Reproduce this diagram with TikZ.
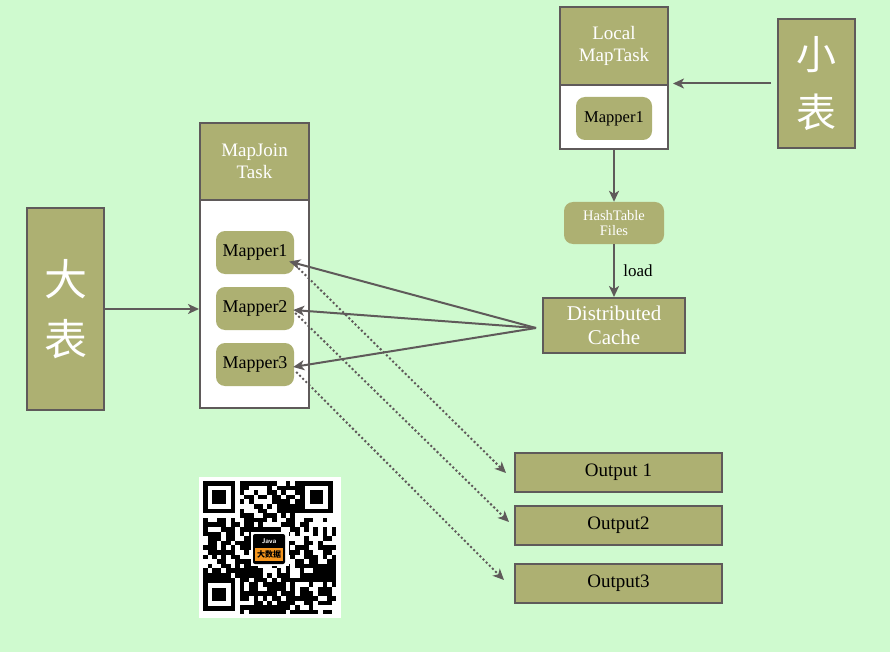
\documentclass[tikz,border=0pt]{standalone}
\usepackage{fontspec}
\setmainfont{Liberation Serif}
\newfontfamily\cjk{Noto Sans CJK SC}
\usetikzlibrary{arrows.meta,positioning,calc}

\definecolor{bgcol}{RGB}{207,250,207}
\definecolor{olive}{RGB}{173,176,114}
\definecolor{edgecol}{RGB}{95,90,90}
\definecolor{logoorange}{RGB}{245,150,30}

\tikzset{
  tablebox/.style={draw=edgecol, line width=2pt, fill=olive, text=white, align=center,
    minimum width=77pt, inner sep=0pt},
  headbox/.style={draw=edgecol, line width=2pt, fill=olive, text=white, align=center,
    inner sep=0pt, font=\fontsize{19}{22}\selectfont},
  bodybox/.style={draw=edgecol, line width=2pt, fill=white, inner sep=0pt},
  mapperbox/.style={fill=olive, rounded corners=9pt, minimum width=78pt, minimum height=43pt,
    inner sep=0pt, font=\fontsize{18}{19}\selectfont},
  outbox/.style={draw=edgecol, line width=2pt, fill=olive, minimum width=207pt,
    minimum height=39pt, inner sep=0pt, font=\fontsize{19}{21}\selectfont},
  link/.style={draw=edgecol, line width=2pt, -{Stealth[length=11pt,width=10pt,inset=3pt]}},
  dotlink/.style={link, dash pattern=on 2pt off 2.4pt},
}

\begin{document}
\begin{tikzpicture}[x=1pt,y=-1pt]
  \fill[bgcol] (0,0) rectangle (890,652);
  \useasboundingbox (0,0) rectangle (890,652);

  % the two tables
  \node[tablebox, minimum height=202pt, font=\cjk\fontsize{43}{60}\selectfont] (dabiao) at (65.5,309) {大\\表};
  \node[tablebox, minimum height=129pt, font=\cjk\fontsize{40}{58}\selectfont] (xiaobiao) at (816.5,83.5) {小\\表};

  % map join task
  \node[headbox, minimum width=109pt, minimum height=77pt] (mjhead) at (254.5,161.5) {MapJoin\\Task};
  \node[bodybox, minimum width=109pt, minimum height=208pt] (mjbody) at (254.5,304) {};
  \node[mapperbox] (m1) at (255,252.5) {Mapper1};
  \node[mapperbox] (m2) at (255,308.5) {Mapper2};
  \node[mapperbox] (m3) at (255,364.5) {Mapper3};

  % local map task
  \node[headbox, minimum width=108pt, minimum height=78pt] (lhead) at (614,46) {Local\\MapTask};
  \node[bodybox, minimum width=108pt, minimum height=64pt] (lbody) at (614,117) {};
  \node[mapperbox, minimum width=76pt, font=\fontsize{16.5}{18}\selectfont] (lmap) at (614,118.5) {Mapper1};

  \node[mapperbox, minimum width=100pt, minimum height=42pt, text=white,
    font=\fontsize{14.5}{15}\selectfont, align=center] (hash) at (614,223) {HashTable\\Files};
  \node[headbox, minimum width=142pt, minimum height=55pt, font=\fontsize{21}{24}\selectfont] (cache) at (614,325.5) {Distributed\\Cache};

  % outputs
  \node[outbox] (out1) at (618.5,472.5) {Output 1};
  \node[outbox] (out2) at (618.5,525) {Output2};
  \node[outbox] (out3) at (618.5,583) {Output3};

  % connectors
  \draw[link] (dabiao.east) -- (dabiao.east -| mjbody.west);
  \draw[link, shorten <=6pt, shorten >=4pt] (xiaobiao.west) -- (xiaobiao.west -| lhead.east);
  \draw[link] (lbody.south) -- (hash.north);
  \draw[link] (hash.south) -- node[right, xshift=5pt, font=\fontsize{17}{18}\selectfont] {load} (cache.north);

  \coordinate (cachein) at ([shift={(-6,2.5)}]cache.west);
  \draw[link] (cachein) -- ([shift={(-5,9)}]m1.east);
  \draw[link] (cachein) -- ([shift={(-1,1.5)}]m2.east);
  \draw[link] (cachein) -- ([shift={(-1,2.5)}]m3.east);

  \draw[dotlink] ([shift={(-2,9.5)}]m1.east) -- ([shift={(-8,0.5)}]out1.west);
  \draw[dotlink] ([shift={(1,4.5)}]m2.east) -- ([shift={(-5,-3)}]out2.west);
  \draw[dotlink] ([shift={(2,7.5)}]m3.east) -- ([shift={(-10,-3)}]out3.west);

  % qr code
  \fill[white] (199,477) rectangle (341,618);
  \pgfmathsetseed{31}
  \foreach \i in {0,...,28}{
    \foreach \j in {0,...,28}{
      \pgfmathtruncatemacro{\bit}{rnd<0.6 ? 1 : 0}
      \ifnum\bit=1 \fill[black] (203+4.6*\i,481+4.6*\j) rectangle +(4.6,4.6); \fi
    }
  }
  \foreach \fx/\fy in {203/481, 300.4/481, 203/578.4}{
    \fill[white] (\fx-0.1,\fy-0.1) rectangle +(36.8,36.8);
    \fill[black] (\fx,\fy) rectangle +(32.2,32.2);
    \fill[white] (\fx+4.6,\fy+4.6) rectangle +(23,23);
    \fill[black] (\fx+9.2,\fy+9.2) rectangle +(13.8,13.8);
  }
  \fill[white] (251,532) rectangle (289,566);
  \fill[black, rounded corners=2pt] (253,534) rectangle (285,564);
  \fill[logoorange] (255,548) rectangle (283,561);
  \node[text=white, inner sep=0pt, font=\sffamily\bfseries\fontsize{7}{8}\selectfont] (qrjava) at (269,541) {Java};
  \node[text=black, inner sep=0pt, font=\cjk\bfseries\fontsize{8}{9}\selectfont] (qrtext) at (269,554.5) {大数据};
\end{tikzpicture}
\end{document}
